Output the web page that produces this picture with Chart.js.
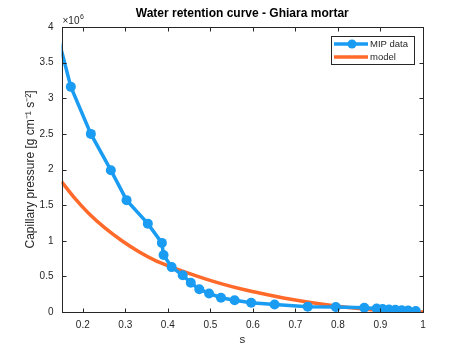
<!DOCTYPE html>
<html>
<head>
<meta charset="utf-8">
<script src="https://cdn.jsdelivr.net/npm/chart.js@4"></script>
<style>
  html, body { margin: 0; padding: 0; background: #fff; }
  #wrap { width: 467px; height: 350px; }
</style>
</head>
<body>
<div id="wrap"><canvas id="chart_wrc"></canvas></div>
<script>
// saturation s and capillary pressure (in units of 10^6 g cm^-1 s^-2)
const mipS = [0.13, 0.172, 0.219, 0.266, 0.303, 0.353, 0.386, 0.390, 0.409, 0.435, 0.454, 0.474, 0.497, 0.525, 0.557, 0.596, 0.651, 0.729, 0.795, 0.862, 0.891, 0.905, 0.92, 0.935, 0.95, 0.965, 0.983];
const mipP = [4.13, 3.16, 2.50, 1.99, 1.57, 1.24, 0.97, 0.80, 0.63, 0.515, 0.41, 0.32, 0.26, 0.20, 0.165, 0.13, 0.105, 0.075, 0.07, 0.06, 0.05, 0.042, 0.035, 0.03, 0.025, 0.02, 0.014];

const modelS = [0.15, 0.182, 0.213, 0.252, 0.292, 0.331, 0.370, 0.409, 0.448, 0.488, 0.527, 0.578, 0.625, 0.703, 0.782, 0.860, 0.939, 1.0];
const modelP = [1.83, 1.59, 1.39, 1.18, 1.00, 0.85, 0.725, 0.63, 0.545, 0.465, 0.395, 0.315, 0.255, 0.165, 0.095, 0.042, 0.012, 0];

const sTicks = [0.2, 0.3, 0.4, 0.5, 0.6, 0.7, 0.8, 0.9, 1];
const pTicks = [0, 0.5, 1, 1.5, 2, 2.5, 3, 3.5, 4];

const titleText = 'Water retention curve - Ghiara mortar';

const blue = '#1a9cf2';
const orange = '#ff6a2b';
const axisColor = '#262626';
const fontFam = '"Liberation Sans", Arial, Helvetica, sans-serif';

const toPoints = (xs, ys) => xs.map((x, i) => ({x: x, y: ys[i]}));

// box around axes with inward ticks, title, exponent label and legend
const matlabAxes = {
    id: 'matlabAxes',
    afterDraw(chart) {
        const ctx = chart.ctx;
        const a = chart.chartArea;
        const xs = chart.scales.x, ys = chart.scales.y;
        const L = Math.round(a.left) + 0.5, R = Math.round(a.right) + 0.5;
        const T = Math.round(a.top) + 0.5, B = Math.round(a.bottom) + 0.5;
        ctx.save();
        ctx.strokeStyle = axisColor;
        ctx.lineWidth = 1;
        ctx.strokeRect(L, T, R - L, B - T);
        ctx.beginPath();
        for (let v of sTicks) {
            const px = Math.round(xs.getPixelForValue(v)) + 0.5;
            ctx.moveTo(px, B); ctx.lineTo(px, B - 4);
            ctx.moveTo(px, T); ctx.lineTo(px, T + 4);
        }
        for (let v of pTicks) {
            const py = Math.round(ys.getPixelForValue(v)) + 0.5;
            ctx.moveTo(L, py); ctx.lineTo(L + 4, py);
            ctx.moveTo(R, py); ctx.lineTo(R - 4, py);
        }
        ctx.stroke();

        // title
        ctx.fillStyle = '#000';
        ctx.textAlign = 'center';
        ctx.textBaseline = 'middle';
        ctx.font = 'bold 12px ' + fontFam;
        ctx.fillText(titleText, (a.left + a.right) / 2, 14);

        // exponent
        ctx.fillStyle = axisColor;
        ctx.textBaseline = 'alphabetic';
        ctx.textAlign = 'left';
        ctx.font = '10px ' + fontFam;
        ctx.fillText('\u00d710', L, T - 4);
        const w = ctx.measureText('\u00d710').width;
        ctx.font = '7px ' + fontFam;
        ctx.fillText('6', L + w + 0.5, T - 9);

        // legend
        const lx = 331, ly = 36, lw = 83, lh = 28;
        ctx.fillStyle = '#fff';
        ctx.fillRect(lx, ly, lw, lh);
        ctx.strokeStyle = axisColor;
        ctx.strokeRect(lx + 0.5, ly + 0.5, lw, lh);
        const rows = [ly + 8, ly + 21];
        chart.data.datasets.forEach((ds, i) => {
            const yy = rows[i];
            ctx.strokeStyle = ds.borderColor;
            ctx.lineWidth = ds.borderWidth;
            ctx.beginPath();
            ctx.moveTo(lx + 3, yy); ctx.lineTo(lx + 37, yy);
            ctx.stroke();
            if (ds.pointRadius > 0) {
                ctx.fillStyle = ds.pointBackgroundColor;
                ctx.beginPath();
                ctx.arc(lx + 21, yy, 4.5, 0, Math.PI * 2);
                ctx.fill();
            }
            ctx.fillStyle = axisColor;
            ctx.font = '9.5px ' + fontFam;
            ctx.textBaseline = 'middle';
            ctx.fillText(ds.label, lx + 39, yy + 0.5);
        });
        ctx.restore();
    }
};

const config = {
    type: 'scatter',
    data: {
        datasets: [{
            label: 'MIP data',
            data: toPoints(mipS, mipP),
            showLine: true,
            borderColor: blue,
            backgroundColor: blue,
            pointBackgroundColor: blue,
            pointBorderColor: blue,
            borderWidth: 3.5,
            pointRadius: 5,
            pointBorderWidth: 0,
            tension: 0
        }, {
            label: 'model',
            data: toPoints(modelS, modelP),
            showLine: true,
            borderColor: orange,
            backgroundColor: orange,
            pointBackgroundColor: orange,
            borderWidth: 3.5,
            pointRadius: 0,
            cubicInterpolationMode: 'monotone'
        }]
    },
    options: {
        responsive: true,
        maintainAspectRatio: false,
        animation: false,
        layout: { padding: { left: 0, right: 44, top: 27, bottom: 0 } },
        plugins: {
            legend: { display: false },
            tooltip: { enabled: false },
            title: { display: false }
        },
        scales: {
            x: {
                type: 'linear',
                min: 0.15,
                max: 1,
                afterBuildTicks: (s) => { s.ticks = sTicks.map(v => ({value: v})); },
                afterFit: (s) => { s.height = 38; },
                grid: { display: false, drawTicks: false },
                border: { display: false },
                ticks: {
                    color: axisColor,
                    padding: 7,
                    maxRotation: 0,
                    font: { family: fontFam, size: 10 },
                    callback: (v) => String(Math.round(v * 10) / 10)
                },
                title: {
                    display: true,
                    text: 's',
                    color: axisColor,
                    font: { family: fontFam, size: 11.5, lineHeight: 1.2 },
                    padding: { bottom: 3 }
                }
            },
            y: {
                type: 'linear',
                min: 0,
                max: 4,
                afterBuildTicks: (s) => { s.ticks = pTicks.map(v => ({value: v})); },
                afterFit: (s) => { s.width = 61.5; },
                grid: { display: false, drawTicks: false },
                border: { display: false },
                ticks: {
                    color: axisColor,
                    padding: 8,
                    font: { family: fontFam, size: 10 },
                    callback: (v) => String(v)
                },
                title: {
                    display: true,
                    text: 'Capillary pressure [g cm\u207b\u00b9 s\u207b\u00b2]',
                    color: axisColor,
                    font: { family: fontFam, size: 12, lineHeight: 1.2 },
                    padding: { top: 23 }
                }
            }
        }
    },
    plugins: [matlabAxes]
};

new Chart(document.getElementById('chart_wrc'), config);
</script>
</body>
</html>
